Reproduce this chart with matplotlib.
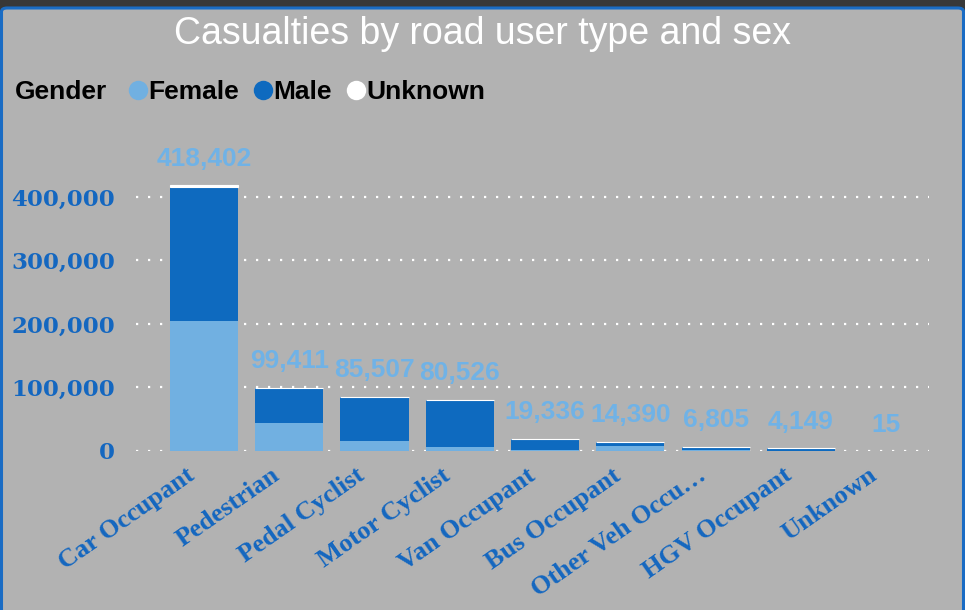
import matplotlib.pyplot as plt
from matplotlib.patches import FancyBboxPatch
from matplotlib.lines import Line2D
from matplotlib.transforms import ScaledTranslation
import numpy as np

# data
road_user_types = ["Car Occupant", "Pedestrian", "Pedal Cyclist", "Motor Cyclist", "Van Occupant",
                   "Bus Occupant", "Other Veh Occupant", "HGV Occupant", "Unknown"]
tick_labels = ["Car Occupant", "Pedestrian", "Pedal Cyclist", "Motor Cyclist", "Van Occupant",
               "Bus Occupant", "Other Veh Occu…", "HGV Occupant", "Unknown"]
female = [204500, 44000, 15700, 6300, 2200, 8000, 1200, 300, 5]
male = [211400, 54600, 69200, 73800, 16800, 6100, 5400, 3750, 10]
unknown = [2502, 811, 607, 426, 336, 290, 205, 99, 0]
totals = [418402, 99411, 85507, 80526, 19336, 14390, 6805, 4149, 15]

BG = "#b2b2b2"
C_FEMALE = "#71b0e1"
C_MALE = "#0e6abf"
C_UNKNOWN = "#ffffff"
C_TICK = "#1467c0"
C_LABEL = "#70b2e6"

fig = plt.figure(figsize=(9.65, 6.1), dpi=100, facecolor="#383838")
card = FancyBboxPatch((1.5 / 965, -0.05), 962 / 965, (610 - 8) / 610 + 0.05,
                      boxstyle="round,pad=0,rounding_size=0.006", transform=fig.transFigure,
                      facecolor=BG, edgecolor="#1a6cc4", linewidth=2.2, zorder=-5)
fig.add_artist(card)

fig.text(0.5, 1 - 34 / 610, "Casualties by road user type and sex", ha="center", va="center",
         color="white", fontsize=27, family="Liberation Sans")

# legend
fig.text(15 / 965, 1 - 92 / 610, "Gender", ha="left", va="center", fontsize=19,
         fontweight="bold", family="Liberation Sans", color="black")
handles = [Line2D([], [], marker="o", linestyle="none", markersize=14, markerfacecolor=c,
                  markeredgecolor="none") for c in (C_FEMALE, C_MALE, C_UNKNOWN)]
leg = fig.legend(handles, ["Female", "Male", "Unknown"], loc="center left",
                 bbox_to_anchor=(109 / 965, 1 - 92 / 610), ncol=3, frameon=False,
                 handletextpad=-0.2, columnspacing=0.3, handlelength=1.2, borderpad=0,
                 prop={"family": "Liberation Sans", "weight": "bold", "size": 19})

ax = fig.add_axes([0.1407, 0.2607, 0.8218, 0.4934])
ax.set_facecolor("none")
x = np.arange(len(road_user_types))
f = np.array(female)
m = np.array(male)
u = np.array(unknown)
ax.bar(x, f, width=0.8, color=C_FEMALE, zorder=2)
ax.bar(x, m, width=0.8, bottom=f, color=C_MALE, zorder=2)
ax.bar(x, u, width=0.8, bottom=f + m, color=C_UNKNOWN, edgecolor=C_UNKNOWN,
       linewidth=np.where(u > 0, 0.8, 0), zorder=2)

for i, t in enumerate(totals):
    ax.annotate(f"{t:,}", (i, t), xytext=(0, 19), textcoords="offset points",
                ha="center", va="center", color=C_LABEL, fontsize=19, fontweight="bold",
                family="Liberation Sans", zorder=3)

ax.set_xlim(-0.8, 8.5)
ax.set_ylim(0, 474000)
ax.set_yticks([0, 100000, 200000, 300000, 400000])
ax.set_yticklabels([f"{v:,}" for v in [0, 100000, 200000, 300000, 400000]])
ax.yaxis.grid(True, color="white", linestyle=(0, (1, 4.4)), linewidth=1.6, zorder=1)
ax.set_axisbelow(True)
for s in ax.spines.values():
    s.set_visible(False)
ax.tick_params(axis="y", length=0, pad=15, labelcolor=C_TICK)
ax.tick_params(axis="x", length=0, pad=16, labelcolor=C_TICK)
for lab in ax.get_yticklabels():
    lab.set_fontfamily("DejaVu Serif")
    lab.set_fontweight("bold")
    lab.set_fontsize(16.5)

ax.set_xticks(x)
ax.set_xticklabels(tick_labels, rotation=35, ha="right", va="center", rotation_mode="anchor",
                   fontsize=19, fontweight="bold", family="Liberation Serif")
shift = ScaledTranslation(-12 / 100, 0, fig.dpi_scale_trans)
for lab in ax.get_xticklabels():
    lab.set_transform(lab.get_transform() + shift)

fig.savefig("out.png", dpi=100, facecolor=fig.get_facecolor())
